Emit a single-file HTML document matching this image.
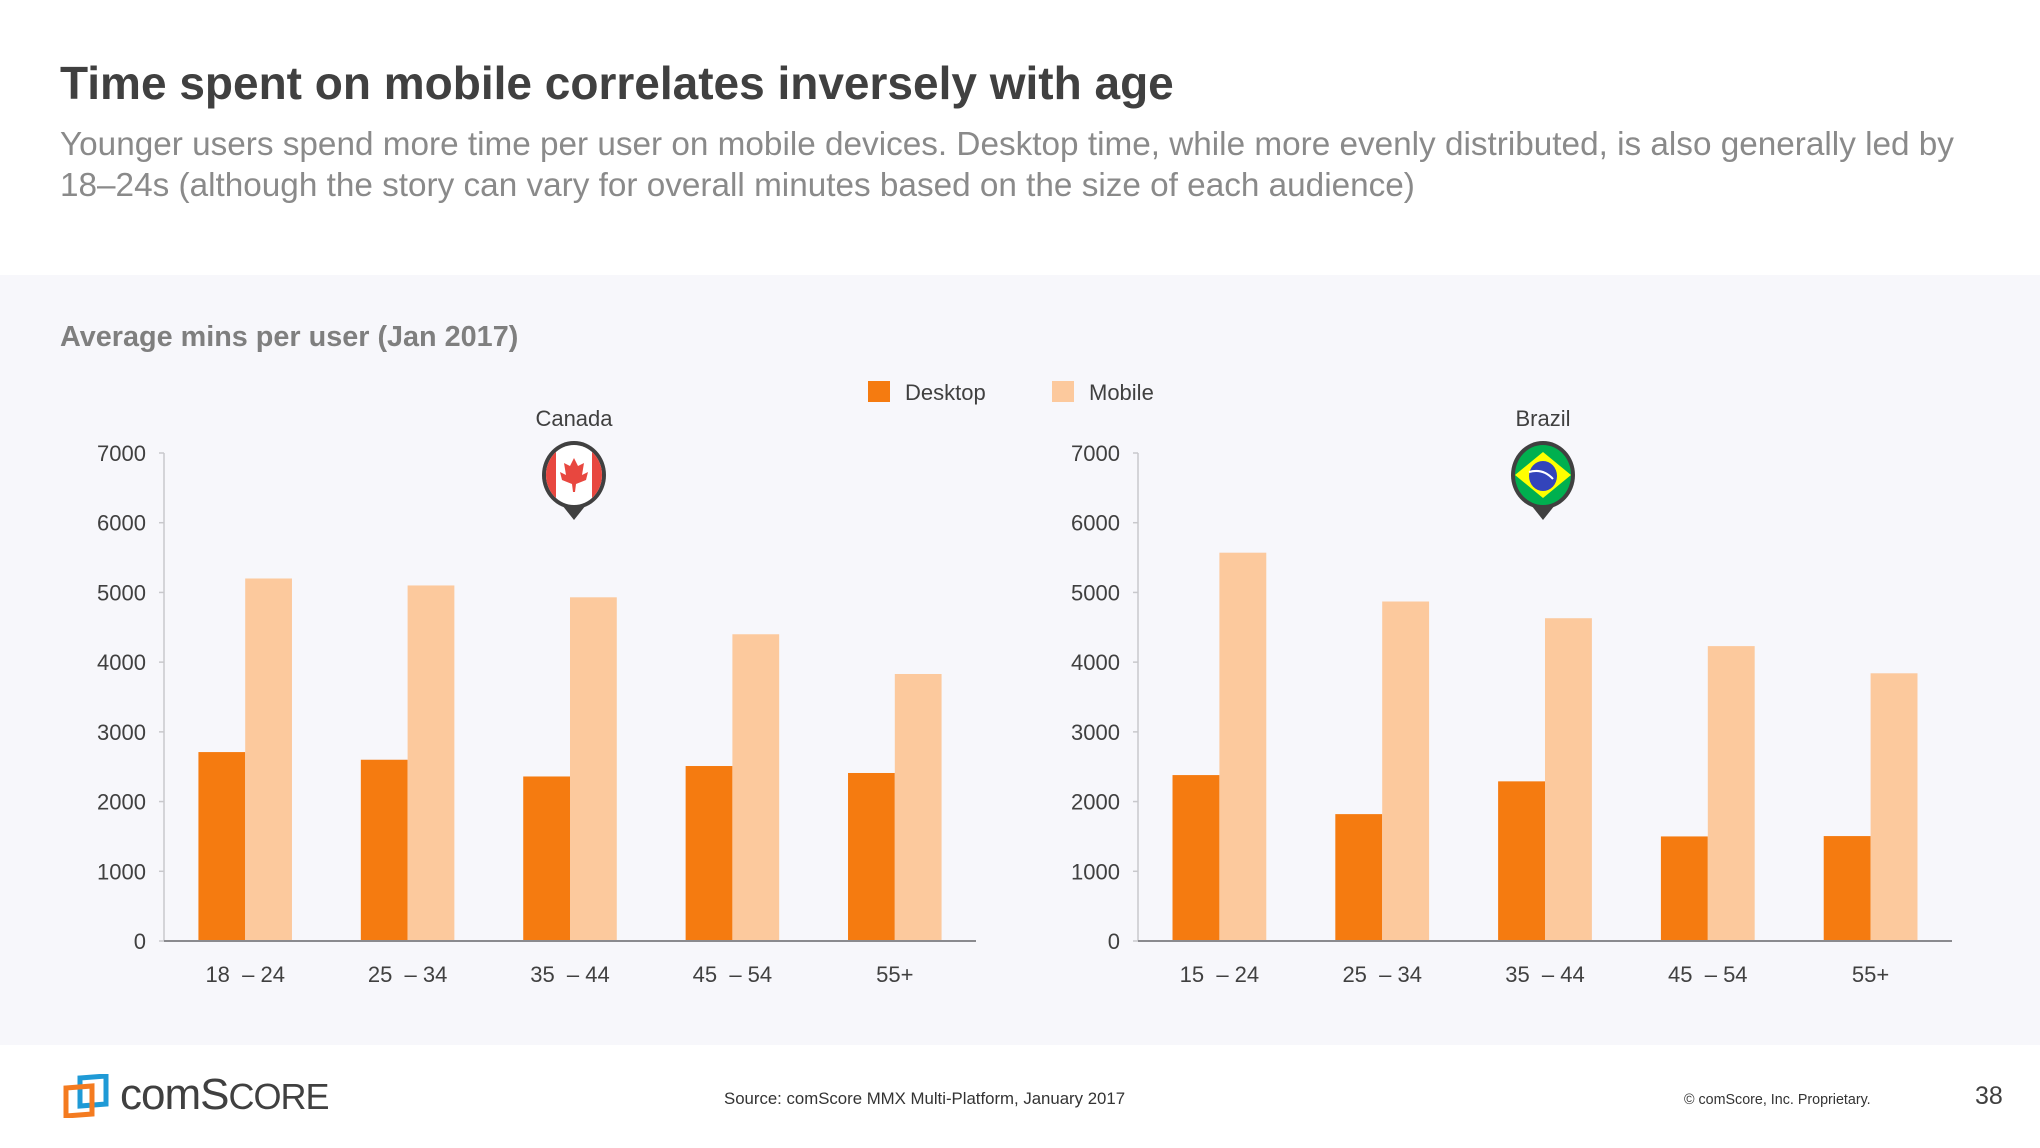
<!DOCTYPE html>
<html><head><meta charset="utf-8"><style>
html,body{margin:0;padding:0;background:#fff}
body{width:2040px;height:1148px;position:relative;overflow:hidden;font-family:"Liberation Sans",sans-serif}
.t{position:absolute;white-space:nowrap}
</style></head><body>
<div class="t" style="left:60px;top:56px;font-size:46px;font-weight:bold;color:#404040">Time spent on mobile correlates inversely with age</div>
<div class="t" style="left:60px;top:124px;font-size:33.3px;line-height:41px;color:#8a8a8a;white-space:normal;width:1980px">Younger users spend more time per user on mobile devices. Desktop time, while more evenly distributed, is also generally led by<br>18–24s (although the story can vary for overall minutes based on the size of each audience)</div>
<div style="position:absolute;left:0;top:275px;width:2040px;height:770px;background:#f7f7fb"></div>
<div class="t" style="left:60px;top:321px;font-size:28.8px;font-weight:bold;color:#7f7f7f">Average mins per user (Jan 2017)</div>
<svg id="chart" width="2040" height="1148" style="position:absolute;left:0;top:0"></svg>
<div class="t" style="left:724px;top:1089px;font-size:16.8px;color:#333">Source: comScore MMX Multi-Platform, January 2017</div>
<div class="t" style="left:1684px;top:1092px;font-size:14.3px;color:#333">© comScore, Inc. Proprietary.</div>
<div class="t" style="left:1975px;top:1082px;font-size:25px;color:#404040">38</div>
<div style="position:absolute;left:62px;top:1074px;width:280px;height:44px">
<svg width="50" height="44" style="position:absolute;left:0;top:0"><path d="M18 4 L44 2 L44 30 L18 32 Z" fill="none" stroke="#1f9ad6" stroke-width="5"/><path d="M4 14 L30 12 L30 40 L4 42 Z" fill="none" stroke="#f47b20" stroke-width="5"/></svg>
<div class="t" style="left:58px;top:-4px;font-size:44px;color:#404040;letter-spacing:-1px">comS<span style="font-size:36px">CORE</span></div>
</div>
<script>
const categoriesCanada=["18  – 24","25  – 34","35  – 44","45  – 54","55+"];
const categoriesBrazil=["15  – 24","25  – 34","35  – 44","45  – 54","55+"];
const canadaDesktop=[2710,2600,2360,2510,2410];
const canadaMobile=[5200,5100,4930,4400,3830];
const brazilDesktop=[2380,1820,2290,1500,1505];
const brazilMobile=[5570,4870,4630,4230,3840];
const yTicks=[0,1000,2000,3000,4000,5000,6000,7000];
const NS="http://www.w3.org/2000/svg";
const svg=document.getElementById('chart');
function mk(tag,attrs,parent){const e=document.createElementNS(NS,tag);for(const k in attrs)e.setAttribute(k,attrs[k]);(parent||svg).appendChild(e);return e;}
const y0=941,y7=453;
function yS(v){return y0-(v/7000)*(y0-y7);}
function drawChart(x0,x1,cats,dv,mv,key,country,cx){
  const g=mk('g',{});
  
  
  const ax=mk('line',{x1:x0,y1:y7,x2:x0,y2:y0,stroke:'#c8c8cc','stroke-width':1.5},g);
  
  yTicks.forEach(v=>{
    mk('line',{x1:x0-5,y1:yS(v),x2:x0,y2:yS(v),stroke:'#c8c8cc','stroke-width':1.5},g);
    const t=mk('text',{x:x0-18,y:yS(v)+8,'text-anchor':'end','font-size':22,fill:'#404040'},g);
    t.textContent=v;
    
    
  });
  const band=(x1-x0)/cats.length,bw=band*0.288;
  cats.forEach((c,i)=>{
    const cxx=x0+band*(i+0.5);
    const b1=mk('rect',{x:cxx-bw,y:yS(dv[i]),width:bw,height:y0-yS(dv[i]),fill:'#f57b10'},g);
    
    
    const b2=mk('rect',{x:cxx,y:yS(mv[i]),width:bw,height:y0-yS(mv[i]),fill:'#fcc99d'},g);
    
    
    const t=mk('text',{x:cxx,y:982,'text-anchor':'middle','font-size':22,fill:'#404040',style:'white-space:pre'},g);
    t.textContent=c;
    
    
  });
  const bx=mk('line',{x1:x0,y1:y0,x2:x1,y2:y0,stroke:'#8a8a8e','stroke-width':2},g);
  
  const ct=mk('text',{x:cx,y:426,'text-anchor':'middle','font-size':22,fill:'#404040'},g);
  ct.textContent=country;
  
  
}
drawChart(164,976,categoriesCanada,canadaDesktop,canadaMobile,'canada','Canada',574);
drawChart(1138,1952,categoriesBrazil,brazilDesktop,brazilMobile,'brazil','Brazil',1543);
function pin(cx,key){
  const g=mk('g',{});
  
  
  mk('path',{d:`M${cx-24} ${490} L${cx} ${520} L${cx+24} ${490} Z`,fill:'#404040'},g);
  mk('ellipse',{cx:cx,cy:475,rx:32,ry:34,fill:'#404040'},g);
  const cp=mk('clipPath',{id:'c'+key},g);mk('ellipse',{cx:cx,cy:475,rx:28,ry:30},cp);
  const f=mk('g',{'clip-path':`url(#c${key})`},g);
  if(key==='canada'){
    mk('rect',{x:cx-30,y:440,width:60,height:70,fill:'#fff'},f);
    mk('rect',{x:cx-30,y:440,width:12,height:70,fill:'#e8473f'},f);
    mk('rect',{x:cx+18,y:440,width:12,height:70,fill:'#e8473f'},f);
    mk('path',{d:`M${cx} 458 L${cx+4} 466 L${cx+10} 463 L${cx+8} 475 L${cx+14} 472 L${cx+12} 480 L${cx+2} 484 L${cx+1} 492 L${cx-1} 492 L${cx-2} 484 L${cx-12} 480 L${cx-14} 472 L${cx-8} 475 L${cx-10} 463 L${cx-4} 466 Z`,fill:'#e8473f'},f);
  } else {
    mk('rect',{x:cx-30,y:440,width:60,height:70,fill:'#00b04f'},f);
    mk('path',{d:`M${cx} 452 L${cx+28} 475 L${cx} 498 L${cx-28} 475 Z`,fill:'#ffff00'},f);
    mk('ellipse',{cx:cx,cy:476,rx:14,ry:15,fill:'#3344bb'},f);
    mk('path',{d:`M${cx-14} 472 Q${cx} 468 ${cx+10} 479`,stroke:'#fff','stroke-width':2,fill:'none'},f);
  }
}
pin(574,'canada');pin(1543,'brazil');
const legend=[["Desktop","#f57b10",868],["Mobile","#fcc99d",1052]];
legend.forEach(l=>{
  const g=mk('g',{});
  
  
  mk('rect',{x:l[2],y:381,width:22,height:21,fill:l[1]},g);
  const t=mk('text',{x:l[2]+37,y:400,'font-size':22,fill:'#404040'},g);
  t.textContent=l[0];
});
</script>
</body></html>
